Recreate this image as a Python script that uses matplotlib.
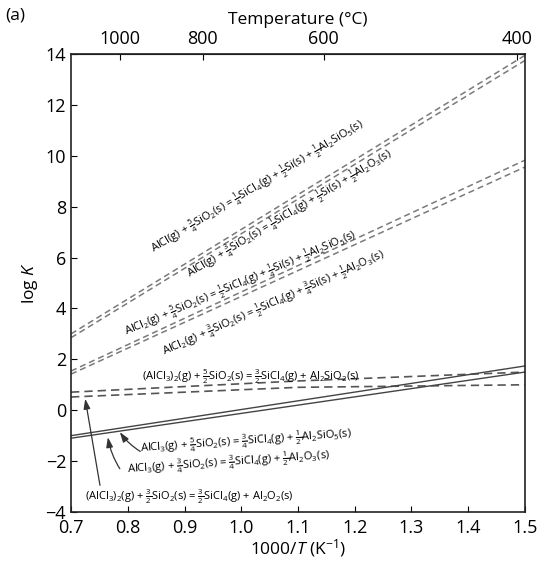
import numpy as np
import matplotlib.pyplot as plt

plt.rcParams['font.family'] = ['Open Sans', 'DejaVu Sans']
plt.rcParams['mathtext.fontset'] = 'custom'
plt.rcParams['mathtext.rm'] = 'Open Sans'
plt.rcParams['mathtext.it'] = 'Open Sans:italic'
plt.rcParams['mathtext.bf'] = 'Open Sans:bold'

# 1000/T (K^-1) at the ends of each line
x_ends = [0.7, 1.5]

# AlCl(g) reactions (upper dashed pair)
alcl_sio5 = [3.0, 13.95]
alcl_o3 = [2.85, 13.75]
# AlCl2(g) reactions (middle dashed pair)
alcl2_sio5 = [1.54, 9.83]
alcl2_o3 = [1.42, 9.56]
# (AlCl3)2(g) reactions (nearly flat dashed lines)
dimer_x = [0.7, 1.1, 1.5]
dimer_sio5 = [0.71, 1.15, 1.5]
dimer_o3 = [0.52, 0.90, 1.0]
# AlCl3(g) reactions (solid lines)
alcl3_sio5 = [-1.0, 1.74]
alcl3_o3 = [-1.1, 1.50]

temp_ticks = [1000, 800, 600, 400]

fig = plt.figure(figsize=(5.48, 5.63), dpi=100)
ax = fig.add_axes([0.1296, 0.0906, 0.8284, 0.8134])

dash_kw = dict(color='#7a7a7a', lw=1.1, dashes=(4, 2.5))
ax.plot(x_ends, alcl_sio5, **dash_kw)
ax.plot(x_ends, alcl_o3, **dash_kw)
ax.plot(x_ends, alcl2_sio5, **dash_kw)
ax.plot(x_ends, alcl2_o3, **dash_kw)
ax.plot(dimer_x, dimer_sio5, color='#555555', lw=1.2, dashes=(5, 3))
ax.plot(dimer_x, dimer_o3, color='#555555', lw=1.2, dashes=(5, 3))
ax.plot(x_ends, alcl3_sio5, color='#444444', lw=1.0)
ax.plot(x_ends, alcl3_o3, color='#444444', lw=1.0)

ax.set_xlim(0.7, 1.5)
ax.set_ylim(-4, 14)
ax.set_xticks(np.arange(0.7, 1.51, 0.1))
ax.set_xticklabels(['0.7', '0.8', '0.9', '1.0', '1.1', '1.2', '1.3', '1.4', '1.5'])
ax.set_yticks(range(-4, 15, 2))
ax.set_yticklabels(['\u22124', '\u22122', '0', '2', '4', '6', '8', '10', '12', '14'])
ax.tick_params(direction='in', length=4, labelsize=13, right=False, top=False)
ax.tick_params(axis='x', pad=5)
ax.set_xlabel('1000/$T$ (K$^{\u22121}$)', fontsize=12.5, labelpad=0)
ax.set_ylabel('log $K$', fontsize=12.5, labelpad=4)
for s in ax.spines.values():
    s.set_linewidth(1.2)
    s.set_color('#222222')

# temperature scale along the top
top = ax.secondary_xaxis('top', functions=(lambda x: 1000.0 / np.asarray(x, float) - 273.15,
                                           lambda t: 1000.0 / (np.asarray(t, float) + 273.15)))
top.set_xticks(temp_ticks)
top.set_xticklabels([str(t) for t in temp_ticks])
top.tick_params(direction='in', length=4, labelsize=13, pad=4)
top.set_xlabel('Temperature (\u00b0C)', fontsize=12.5, labelpad=5)

fig.text(0.01, 0.972, '(a)', fontsize=12.5, va='center')

fs = 8
f = lambda a, b: r'$\frac{%d}{%d}$' % (a, b)
rot = dict(ha='center', va='center', rotation_mode='anchor', fontsize=fs)

ax.text(1.028, 8.8, 'AlCl(g) + ' + f(5, 4) + 'SiO$_2$(s) = ' + f(1, 4) + 'SiCl$_4$(g) + ' + f(1, 2)
        + 'Si(s) + ' + f(1, 2) + 'Al$_2$SiO$_5$(s)', rotation=31, **rot)
ax.text(1.085, 7.7, 'AlCl(g) + ' + f(3, 4) + 'SiO$_2$(s) = ' + f(1, 4) + 'SiCl$_4$(g) + ' + f(1, 2)
        + 'Si(s) + ' + f(1, 2) + 'Al$_2$O$_3$(s)', rotation=31, **rot)
ax.text(1.0, 5.0, 'AlCl$_2$(g) + ' + f(5, 4) + 'SiO$_2$(s) = ' + f(1, 2) + 'SiCl$_4$(g) + ' + f(1, 4)
        + 'Si(s) + ' + f(1, 2) + 'Al$_2$SiO$_5$(s)', rotation=23, **rot)
ax.text(1.058, 4.2, 'AlCl$_2$(g) + ' + f(3, 4) + 'SiO$_2$(s) = ' + f(1, 2) + 'SiCl$_4$(g) + ' + f(3, 4)
        + 'Si(s) + ' + f(1, 2) + 'Al$_2$O$_3$(s)', rotation=24, **rot)

ax.text(0.825, 1.3, '(AlCl$_3$)$_2$(g) + ' + f(5, 2) + 'SiO$_2$(s) = ' + f(3, 2) + 'SiCl$_4$(g) + Al$_2$SiO$_2$(s)',
        fontsize=fs, ha='left', va='center')
ax.text(0.822, -1.5, 'AlCl$_3$(g) + ' + f(5, 4) + 'SiO$_2$(s) = ' + f(3, 4) + 'SiCl$_4$(g) + ' + f(1, 2)
        + 'Al$_2$SiO$_5$(s)', fontsize=fs, ha='left', va='center', rotation=4, rotation_mode='anchor')
ax.text(0.799, -2.35, 'AlCl$_3$(g) + ' + f(3, 4) + 'SiO$_2$(s) = ' + f(3, 4) + 'SiCl$_4$(g) + ' + f(1, 2)
        + 'Al$_2$O$_3$(s)', fontsize=fs, ha='left', va='center', rotation=4, rotation_mode='anchor')
ax.text(0.725, -3.4, '(AlCl$_3$)$_2$(g) + ' + f(3, 2) + 'SiO$_2$(s) = ' + f(3, 2) + 'SiCl$_4$(g) + Al$_2$O$_2$(s)',
        fontsize=fs, ha='left', va='center')

arrow_kw = dict(arrowstyle='-|>,head_length=0.6,head_width=0.2', color='#333333', lw=0.9,
                shrinkA=0, shrinkB=0)
ax.annotate('', xy=(0.786, -0.86), xytext=(0.822, -1.62),
            arrowprops=dict(connectionstyle='arc3,rad=-0.1', **arrow_kw))
ax.annotate('', xy=(0.765, -1.06), xytext=(0.786, -2.3),
            arrowprops=dict(connectionstyle='arc3,rad=-0.1', **arrow_kw))
ax.annotate('', xy=(0.725, 0.45), xytext=(0.751, -2.95),
            arrowprops=dict(connectionstyle='arc3,rad=0.0', **arrow_kw))

fig.savefig('out.png', dpi=100)
